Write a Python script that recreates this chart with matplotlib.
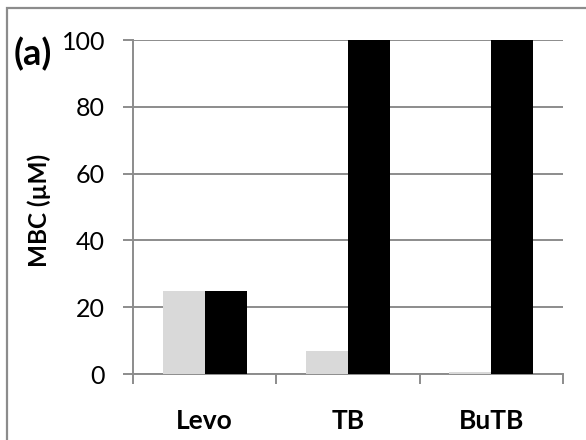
import matplotlib.pyplot as plt
import numpy as np
from matplotlib.patches import Rectangle

plt.rcParams['font.family'] = ['Lato', 'DejaVu Sans']

categories = ['Levo', 'TB', 'BuTB']
mbc_light = [25, 7, 0.5]
mbc_dark = [25, 100, 100]
y_ticks = [0, 20, 40, 60, 80, 100]

W, H = 586, 440
fig = plt.figure(figsize=(W / 100, H / 100), dpi=100)

# outer frame (only top and left edges fall inside the canvas)
fig.patches.append(Rectangle((7 / W, -0.1), 1.2, (440 - 8) / H + 0.1,
                             transform=fig.transFigure, fill=False,
                             edgecolor='#8c8c8c', linewidth=1.6))

ax = fig.add_axes([133 / W, (H - 374) / H, (563 - 133) / W, (374 - 40) / H])

x = np.arange(len(categories))
bw = 0.293
ax.bar(x - bw / 2, mbc_light, width=bw, color='#d9d9d9', zorder=3)
ax.bar(x + bw / 2, mbc_dark, width=bw, color='black', zorder=3)

ax.set_xlim(-0.5, 2.5)
ax.set_ylim(0, 100)
ax.set_yticks(y_ticks)
ax.yaxis.grid(True, color='#8c8c8c', linewidth=1.4, zorder=0)
ax.tick_params(axis='y', length=7, width=1.4, color='#8c8c8c', pad=13,
               labelsize=18)

ax.set_xticks(x)
ax.set_xticklabels(categories, fontweight='bold', fontsize=19)
ax.set_xticks(np.arange(-0.5, 3, 1), minor=True)
ax.tick_params(axis='x', which='major', length=0, pad=25)
ax.tick_params(axis='x', which='minor', length=7, width=1.4, color='#8c8c8c')

for s in ['top', 'right']:
    ax.spines[s].set_visible(False)
for s in ['left', 'bottom']:
    ax.spines[s].set_color('#8c8c8c')
    ax.spines[s].set_linewidth(1.4)

ax.set_ylabel('MBC (µM)', fontweight='bold', fontsize=17.5)
ax.yaxis.set_label_coords(-0.19, 0.49)
fig.text(14 / W, 1 - 54 / H, '(a)', fontweight='bold', fontsize=26,
         va='center', ha='left')

fig.savefig('out.png', dpi=100)
